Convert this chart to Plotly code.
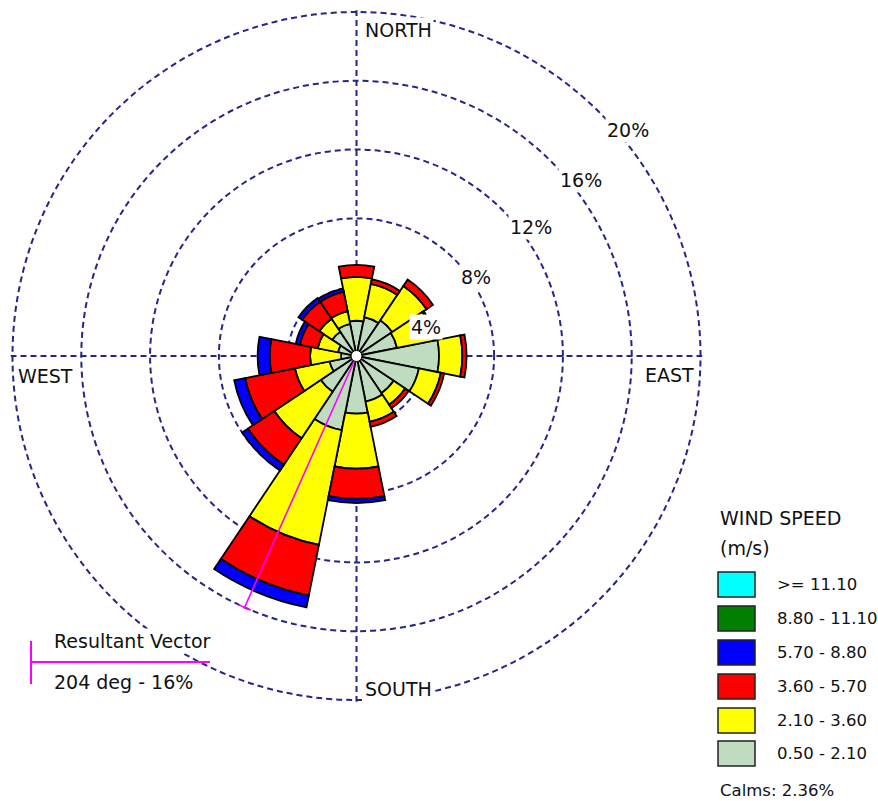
import math
import plotly.graph_objects as go

# Wind rose: frequency (%) of wind by direction sector and speed class
directions = ["N", "NNE", "NE", "ENE", "E", "ESE", "SE", "SSE",
              "S", "SSW", "SW", "WSW", "W", "WNW", "NW", "NNW"]
sector_deg = [0, 22.5, 45, 67.5, 90, 112.5, 135, 157.5,
              180, 202.5, 225, 247.5, 270, 292.5, 315, 337.5]

speed_bins = ["0.50 - 2.10", "2.10 - 3.60", "3.60 - 5.70",
              "5.70 - 8.80", "8.80 - 11.10", ">= 11.10"]
bin_colors = ["#c0dcc0", "#ffff00", "#ff0000", "#0000ff", "#008000", "#00ffff"]

freq_050_210 = [2.05, 2.30, 2.50, 2.40, 4.80, 3.70, 2.60, 2.70,
                3.35, 4.40, 2.50, 1.60, 0.90, 1.10, 1.70, 1.90]
freq_210_360 = [2.55, 1.97, 2.40, 2.20, 1.35, 1.30, 0.80, 1.20,
                3.20, 6.80, 3.25, 2.05, 1.80, 1.20, 0.90, 0.75]
freq_360_570 = [0.70, 0.28, 0.45, 0.10, 0.25, 0.20, 0.25, 0.30,
                1.75, 3.00, 1.85, 2.95, 2.35, 1.05, 1.20, 1.15]
freq_570_880 = [0.00, 0.00, 0.00, 0.00, 0.00, 0.00, 0.00, 0.00,
                0.25, 0.70, 0.40, 0.65, 0.70, 0.25, 0.26, 0.20]
freq_880_1110 = [0.00, 0.00, 0.00, 0.00, 0.00, 0.00, 0.00, 0.00,
                 0.00, 0.00, 0.00, 0.00, 0.00, 0.00, 0.00, 0.00]
freq_ge_1110 = [0.00, 0.00, 0.00, 0.00, 0.00, 0.00, 0.00, 0.00,
                0.00, 0.00, 0.00, 0.00, 0.00, 0.00, 0.00, 0.00]

calms_pct = 2.36
resultant_dir = 204
resultant_pct = 16
ring_ticks = [4, 8, 12, 16, 20]
ring_labels = ["4%", "8%", "12%", "16%", "20%"]

series = [freq_050_210, freq_210_360, freq_360_570,
          freq_570_880, freq_880_1110, freq_ge_1110]

W, H = 878, 801
GRID = "#262686"
DASH = "6px,4px"
FONT = "DejaVu Sans"

# plot centre and pixel radius of the outermost ring
CX, CY, R_OUTER = 356.5, 356.0, 344.0
outer = max(ring_ticks)
r_max = outer * 1.005          # a little headroom so the outer ring is drawn
R_DOM = R_OUTER * r_max / outer


def px(x):
    return x / W


def py(y):
    return 1 - y / H


fig = go.Figure()

# stacked sectors, one trace per speed class
for name, color, vals in zip(speed_bins, bin_colors, series):
    th = [a for a, v in zip(sector_deg, vals) if v > 0]
    rr = [v for v in vals if v > 0]
    if not rr:
        continue
    fig.add_trace(go.Barpolar(
        r=rr, theta=th, width=22.5, name=name,
        marker=dict(color=color, line=dict(color="black", width=1.8)),
        showlegend=False, hoverinfo="skip",
    ))

# resultant vector with a cross tick at its tip
fig.add_trace(go.Scatterpolar(
    r=[0, resultant_pct], theta=[resultant_dir, resultant_dir],
    mode="lines", line=dict(color="#ff00ff", width=1.6),
    showlegend=False, hoverinfo="skip",
))
half = 0.4
tip_r = math.hypot(resultant_pct, half)
tip_d = math.degrees(math.atan2(half, resultant_pct))
fig.add_trace(go.Scatterpolar(
    r=[tip_r, tip_r], theta=[resultant_dir - tip_d, resultant_dir + tip_d],
    mode="lines", line=dict(color="#ff00ff", width=1.6),
    showlegend=False, hoverinfo="skip",
))

# calm circle at the centre
fig.add_trace(go.Scatterpolar(
    r=[0], theta=[0], mode="markers",
    marker=dict(size=11, color="white", line=dict(color="black", width=1)),
    showlegend=False, hoverinfo="skip",
))

annotations = []
shapes = []


def label(text, x, y, size=19, anchor="left", bg=None):
    annotations.append(dict(
        text=text, x=px(x), y=py(y), xref="paper", yref="paper",
        xanchor=anchor, yanchor="middle", showarrow=False,
        font=dict(family=FONT, size=size, color="#111111"),
        bgcolor=bg, borderpad=1,
    ))


# compass labels
label("NORTH", 363, 30, bg="white")
label("SOUTH", 363, 689, bg="white")
label("EAST", 643, 375, bg="white")
label("WEST", 16, 376, bg="white")

# ring labels
ring_pos = [(426, 327), (475.5, 277), (531, 227), (581, 180), (627.5, 130)]
for txt, (x, y) in zip(ring_labels, ring_pos):
    label(txt, x, y, anchor="center", bg="white")

# resultant vector key
label("Resultant Vector", 52, 641, bg="white")
label(f"{resultant_dir} deg - {resultant_pct}%", 52, 682, bg="white")
shapes.append(dict(type="line", xref="paper", yref="paper",
                   x0=px(31), x1=px(210), y0=py(662), y1=py(662),
                   line=dict(color="#ff00ff", width=2)))
shapes.append(dict(type="line", xref="paper", yref="paper",
                   x0=px(31), x1=px(31), y0=py(641), y1=py(684),
                   line=dict(color="#ff00ff", width=2)))

# speed legend
label("WIND SPEED", 718, 518)
label("(m/s)", 718, 548)
box_top = [572, 606, 640, 674, 708, 741]
for name, color, top in zip(reversed(speed_bins), reversed(bin_colors), box_top):
    shapes.append(dict(type="rect", xref="paper", yref="paper",
                       x0=px(718), x1=px(755), y0=py(top), y1=py(top + 25),
                       fillcolor=color, line=dict(color="#222222", width=1.5)))
    label(name, 775, top + 12.5, size=16.5)
label(f"Calms: {calms_pct:.2f}%", 718, 790, size=16.5)

fig.update_layout(
    width=W, height=H,
    margin=dict(l=0, r=0, t=0, b=0),
    paper_bgcolor="white",
    showlegend=False,
    polar=dict(
        domain=dict(x=[px(CX - R_DOM), px(CX + R_DOM)],
                    y=[py(CY + R_DOM), py(CY - R_DOM)]),
        bgcolor="white",
        barmode="stack",
        radialaxis=dict(range=[0, r_max], tickvals=ring_ticks, showticklabels=False,
                        ticks="", showline=False, gridcolor=GRID, gridwidth=1.6,
                        griddash=DASH),
        angularaxis=dict(rotation=90, direction="clockwise",
                         tickvals=[0, 90, 180, 270], showticklabels=False,
                         ticks="", showline=False, gridcolor=GRID, gridwidth=1.6,
                         griddash=DASH),
    ),
    annotations=annotations,
    shapes=shapes,
)

fig.write_html("out.html")
